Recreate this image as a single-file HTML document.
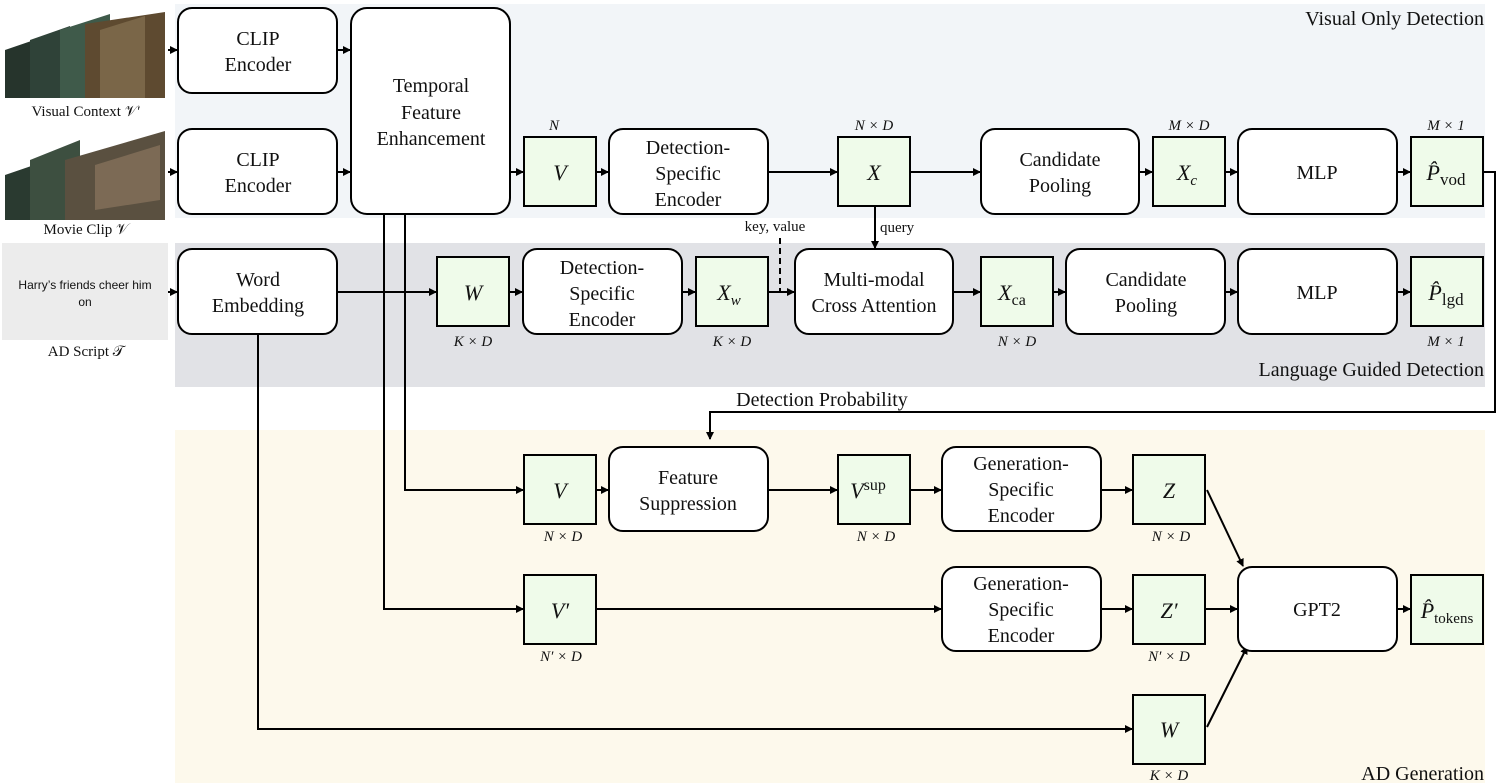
<!DOCTYPE html>
<html><head><meta charset="utf-8"><style>
html,body{margin:0;padding:0;background:#fff;width:1498px;height:783px;overflow:hidden}
svg text{font-family:"Liberation Serif",serif;fill:#111}
.b{fill:#fff;stroke:#000;stroke-width:2}
.g{fill:#effbea;stroke:#000;stroke-width:2}
.t{font-size:20px;text-anchor:middle}
.m{font-size:22px;font-style:italic;text-anchor:middle}
.d{font-size:15px;font-style:italic;text-anchor:middle}
.l{stroke:#000;stroke-width:2;fill:none}
</style></head><body>
<svg width="1498" height="783" viewBox="0 0 1498 783" xmlns="http://www.w3.org/2000/svg">
<defs><marker id="a" markerWidth="8" markerHeight="8" refX="7" refY="4" orient="auto" markerUnits="userSpaceOnUse"><path d="M0,0 L8,4 L0,8z" fill="#000"/></marker></defs>
<rect x="175" y="4" width="1310" height="214" fill="#f2f5f8"/>
<rect x="175" y="243" width="1310" height="144" fill="#e1e2e6"/>
<rect x="175" y="430" width="1310" height="353" fill="#fdf9ec"/>
<!-- left thumbnails -->
<g>
<polygon points="5,98 5,50 40,38 40,98" fill="#26342c"/>
<polygon points="30,98 30,40 70,26 70,98" fill="#2f4238"/>
<polygon points="60,98 60,30 110,14 110,98" fill="#3f5a4a"/>
<polygon points="85,98 85,24 165,12 165,98" fill="#5e4a30"/>
<polygon points="100,98 100,30 145,16 145,98" fill="#7a6648"/>
<polygon points="5,220 5,175 40,163 40,220" fill="#2a3a30"/>
<polygon points="30,220 30,160 80,140 80,220" fill="#3d4f40"/>
<polygon points="65,220 65,160 165,131 165,220" fill="#5a5040"/>
<polygon points="95,210 95,165 160,145 160,200" fill="#7c6a55"/>
</g>
<text x="86" y="116" font-size="15" text-anchor="middle">Visual Context 𝒱′</text>
<text x="86" y="234" font-size="15" text-anchor="middle">Movie Clip 𝒱</text>
<rect x="2" y="243" width="166" height="97" fill="#ececec"/>
<text x="85" y="289" font-size="12" text-anchor="middle" style="font-family:'Liberation Sans',sans-serif">Harry’s friends cheer him</text>
<text x="85" y="306" font-size="12" text-anchor="middle" style="font-family:'Liberation Sans',sans-serif">on</text>
<text x="86" y="356" font-size="15" text-anchor="middle">AD Script 𝒯</text>
<!-- connectors -->
<path class="l" d="M168,50 H177" marker-end="url(#a)"/>
<path class="l" d="M168,172 H177" marker-end="url(#a)"/>
<path class="l" d="M168,292 H177" marker-end="url(#a)"/>
<path class="l" d="M337,50 H350" marker-end="url(#a)"/>
<path class="l" d="M337,172 H350" marker-end="url(#a)"/>
<path class="l" d="M510,172 H523" marker-end="url(#a)"/>
<path class="l" d="M596,172 H608" marker-end="url(#a)"/>
<path class="l" d="M768,172 H837" marker-end="url(#a)"/>
<path class="l" d="M910,172 H980" marker-end="url(#a)"/>
<path class="l" d="M1139,172 H1152" marker-end="url(#a)"/>
<path class="l" d="M1225,172 H1237" marker-end="url(#a)"/>
<path class="l" d="M1397,172 H1410" marker-end="url(#a)"/>
<path class="l" d="M1483,172 H1495 V412 H710 V439" marker-end="url(#a)"/>
<path class="l" d="M337,292 H436" marker-end="url(#a)"/>
<path class="l" d="M509,292 H522" marker-end="url(#a)"/>
<path class="l" d="M682,292 H695" marker-end="url(#a)"/>
<path class="l" d="M768,292 H794" marker-end="url(#a)"/>
<path d="M780,238 V292" stroke="#000" stroke-width="2" stroke-dasharray="6,4"/>
<path class="l" d="M875,206 V248" marker-end="url(#a)"/>
<path class="l" d="M953,292 H980" marker-end="url(#a)"/>
<path class="l" d="M1053,292 H1065" marker-end="url(#a)"/>
<path class="l" d="M1225,292 H1237" marker-end="url(#a)"/>
<path class="l" d="M1397,292 H1410" marker-end="url(#a)"/>
<path class="l" d="M405,214 V490 H523" marker-end="url(#a)"/>
<path class="l" d="M384,214 V609 H523" marker-end="url(#a)"/>
<path class="l" d="M258,334 V729 H1132" marker-end="url(#a)"/>
<path class="l" d="M596,490 H608" marker-end="url(#a)"/>
<path class="l" d="M768,490 H837" marker-end="url(#a)"/>
<path class="l" d="M910,490 H941" marker-end="url(#a)"/>
<path class="l" d="M1101,490 H1132" marker-end="url(#a)"/>
<path class="l" d="M596,609 H941" marker-end="url(#a)"/>
<path class="l" d="M1101,609 H1132" marker-end="url(#a)"/>
<path class="l" d="M1205,609 H1237" marker-end="url(#a)"/>
<path class="l" d="M1207,490 L1243,566" marker-end="url(#a)"/>
<path class="l" d="M1207,727 L1247,647" marker-end="url(#a)"/>
<path class="l" d="M1483,609 H1483"/>
<path class="l" d="M1397,609 H1410" marker-end="url(#a)"/>
<!-- boxes -->
<rect class="b" x="178" y="8" width="159" height="85" rx="14"/>
<text class="t" x="258" y="45">CLIP</text><text class="t" x="258" y="71">Encoder</text>
<rect class="b" x="178" y="129" width="159" height="85" rx="14"/>
<text class="t" x="258" y="166">CLIP</text><text class="t" x="258" y="192">Encoder</text>
<rect class="b" x="351" y="8" width="159" height="206" rx="16"/>
<text class="t" x="431" y="92">Temporal</text><text class="t" x="431" y="119">Feature</text><text class="t" x="431" y="145">Enhancement</text>
<rect class="g" x="524" y="137" width="72" height="69"/><text class="m" x="560" y="180">V</text>
<text class="d" x="554" y="130">N</text>
<rect class="b" x="609" y="129" width="159" height="85" rx="14"/>
<text class="t" x="688" y="154">Detection-</text><text class="t" x="688" y="180">Specific</text><text class="t" x="688" y="206">Encoder</text>
<rect class="g" x="838" y="137" width="72" height="69"/><text class="m" x="874" y="180">X</text>
<text class="d" x="874" y="130">N × D</text>
<rect class="b" x="981" y="129" width="158" height="85" rx="14"/>
<text class="t" x="1060" y="166">Candidate</text><text class="t" x="1060" y="192">Pooling</text>
<rect class="g" x="1153" y="137" width="72" height="69"/><text class="m" x="1187" y="180">X<tspan font-size="15" dy="5">c</tspan></text>
<text class="d" x="1189" y="130">M × D</text>
<rect class="b" x="1238" y="129" width="159" height="85" rx="14"/>
<text class="t" x="1317" y="179">MLP</text>
<rect class="g" x="1411" y="137" width="72" height="69"/><text class="m" x="1446" y="180">P̂<tspan font-style="normal" font-size="17" dy="5">vod</tspan></text>
<text class="d" x="1446" y="130">M × 1</text>
<text x="1484" y="25" font-size="20" text-anchor="end">Visual Only Detection</text>

<rect class="b" x="178" y="249" width="159" height="85" rx="14"/>
<text class="t" x="258" y="286">Word</text><text class="t" x="258" y="312">Embedding</text>
<rect class="g" x="437" y="257" width="72" height="69"/><text class="m" x="473" y="300">W</text>
<text class="d" x="473" y="346">K × D</text>
<rect class="b" x="523" y="249" width="159" height="85" rx="14"/>
<text class="t" x="602" y="274">Detection-</text><text class="t" x="602" y="300">Specific</text><text class="t" x="602" y="326">Encoder</text>
<rect class="g" x="696" y="257" width="72" height="69"/><text class="m" x="729" y="300">X<tspan font-size="15" dy="5">w</tspan></text>
<text class="d" x="732" y="346">K × D</text>
<text x="775" y="231" font-size="15" text-anchor="middle">key, value</text>
<text x="880" y="232" font-size="15">query</text>
<rect class="b" x="795" y="249" width="158" height="85" rx="14"/>
<text class="t" x="874" y="286">Multi-modal</text><text class="t" x="874" y="312">Cross Attention</text>
<rect class="g" x="981" y="257" width="72" height="69"/><text class="m" x="1012" y="300">X<tspan font-style="normal" font-size="16" dy="5">ca</tspan></text>
<text class="d" x="1017" y="346">N × D</text>
<rect class="b" x="1066" y="249" width="159" height="85" rx="14"/>
<text class="t" x="1146" y="286">Candidate</text><text class="t" x="1146" y="312">Pooling</text>
<rect class="b" x="1238" y="249" width="159" height="85" rx="14"/>
<text class="t" x="1317" y="299">MLP</text>
<rect class="g" x="1411" y="257" width="72" height="69"/><text class="m" x="1446" y="300">P̂<tspan font-style="normal" font-size="17" dy="5">lgd</tspan></text>
<text class="d" x="1446" y="346">M × 1</text>
<text x="1484" y="376" font-size="20" text-anchor="end">Language Guided Detection</text>
<text x="822" y="406" font-size="20" text-anchor="middle">Detection Probability</text>

<rect class="g" x="524" y="455" width="72" height="69"/><text class="m" x="560" y="498">V</text>
<text class="d" x="563" y="541">N × D</text>
<rect class="b" x="609" y="447" width="159" height="84" rx="14"/>
<text class="t" x="688" y="484">Feature</text><text class="t" x="688" y="510">Suppression</text>
<rect class="g" x="838" y="455" width="72" height="69"/><text class="m" x="868" y="498">V<tspan font-style="normal" font-size="16" dy="-8">sup</tspan></text>
<text class="d" x="876" y="541">N × D</text>
<rect class="b" x="942" y="447" width="159" height="84" rx="14"/>
<text class="t" x="1021" y="470">Generation-</text><text class="t" x="1021" y="496">Specific</text><text class="t" x="1021" y="522">Encoder</text>
<rect class="g" x="1133" y="455" width="72" height="69"/><text class="m" x="1169" y="498">Z</text>
<text class="d" x="1171" y="541">N × D</text>
<rect class="g" x="524" y="575" width="72" height="69"/><text class="m" x="560" y="618">V′</text>
<text class="d" x="561" y="661">N′ × D</text>
<rect class="b" x="942" y="567" width="159" height="84" rx="14"/>
<text class="t" x="1021" y="590">Generation-</text><text class="t" x="1021" y="616">Specific</text><text class="t" x="1021" y="642">Encoder</text>
<rect class="g" x="1133" y="575" width="72" height="69"/><text class="m" x="1169" y="618">Z′</text>
<text class="d" x="1169" y="661">N′ × D</text>
<rect class="b" x="1238" y="567" width="159" height="84" rx="14"/>
<text class="t" x="1317" y="616">GPT2</text>
<rect class="g" x="1411" y="575" width="72" height="69"/><text class="m" x="1447" y="618" font-size="20">P̂<tspan font-style="normal" font-size="15" dy="5">tokens</tspan></text>
<rect class="g" x="1133" y="695" width="72" height="69"/><text class="m" x="1169" y="737">W</text>
<text class="d" x="1169" y="780">K × D</text>
<text x="1484" y="780" font-size="20" text-anchor="end">AD Generation</text>
</svg>
</body></html>
